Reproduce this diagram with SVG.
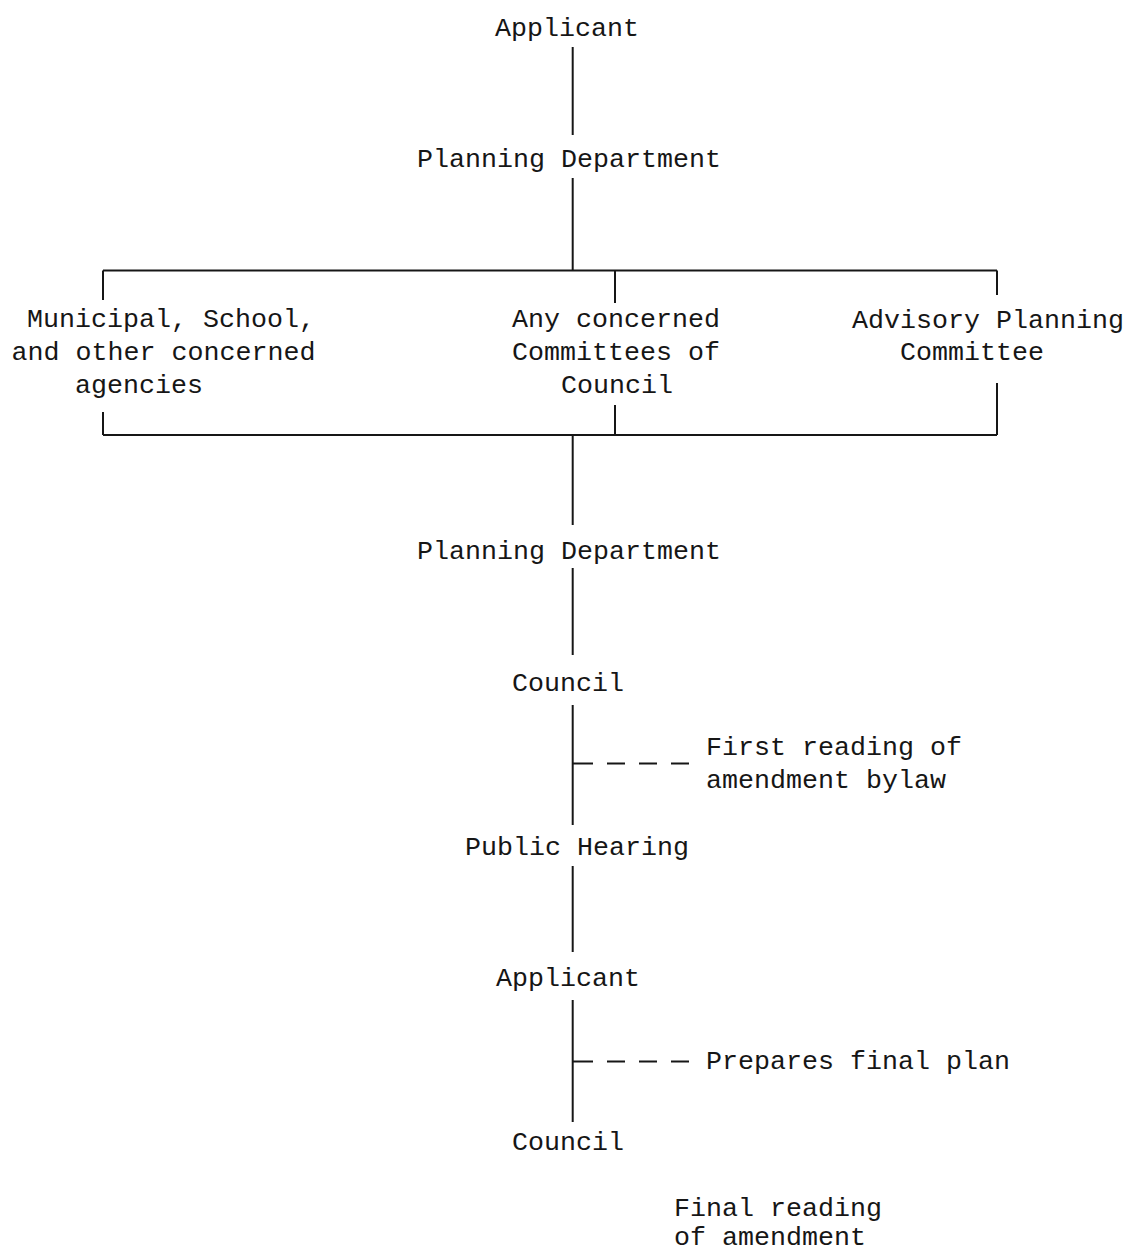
<svg xmlns="http://www.w3.org/2000/svg" width="1130" height="1255" viewBox="0 0 1130 1255">
  <style>
    text { font-family: "Liberation Mono", "DejaVu Sans Mono", monospace; font-size: 26.67px; fill: #161616; }
    .ln { stroke: #161616; stroke-width: 2; fill: none; }
    .dash { stroke: #161616; stroke-width: 2; fill: none; stroke-dasharray: 18 14; }
  </style>
  <rect width="1130" height="1255" fill="#ffffff"/>

  <!-- connectors -->
  <g id="connectors">
    <line class="ln" x1="572.7" y1="47" x2="572.7" y2="135"/>
    <line class="ln" x1="572.7" y1="178" x2="572.7" y2="270.5"/>
    <!-- distribution bracket -->
    <line class="ln" x1="103" y1="270.5" x2="997" y2="270.5"/>
    <line class="ln" x1="103" y1="270.5" x2="103" y2="300"/>
    <line class="ln" x1="615" y1="270.5" x2="615" y2="303"/>
    <line class="ln" x1="997" y1="270.5" x2="997" y2="295"/>
    <!-- collection bracket -->
    <line class="ln" x1="103" y1="435" x2="997" y2="435"/>
    <line class="ln" x1="103" y1="412" x2="103" y2="435"/>
    <line class="ln" x1="615" y1="405" x2="615" y2="435"/>
    <line class="ln" x1="997" y1="383" x2="997" y2="435"/>
    <line class="ln" x1="572.7" y1="435" x2="572.7" y2="525"/>
    <line class="ln" x1="572.7" y1="568" x2="572.7" y2="655"/>
    <line class="ln" x1="572.7" y1="705" x2="572.7" y2="825"/>
    <line class="ln" x1="572.7" y1="866" x2="572.7" y2="952"/>
    <line class="ln" x1="572.7" y1="1000" x2="572.7" y2="1122"/>
    <!-- side notes -->
    <line class="ln" x1="572.7" y1="763.5" x2="593" y2="763.5"/>
    <line class="dash" x1="607" y1="763.5" x2="689" y2="763.5"/>
    <line class="ln" x1="572.7" y1="1061.5" x2="593" y2="1061.5"/>
    <line class="dash" x1="607" y1="1061.5" x2="689" y2="1061.5"/>
  </g>

  <g id="applicant-1"><text x="495" y="36">Applicant</text></g>
  <g id="planning-dept-1"><text x="417" y="167">Planning Department</text></g>

  <g id="agencies">
    <text x="27" y="327">Municipal, School,</text>
    <text x="11.5" y="360">and other concerned</text>
    <text x="75" y="393">agencies</text>
  </g>
  <g id="committees">
    <text x="512" y="327">Any concerned</text>
    <text x="512" y="360">Committees of</text>
    <text x="561" y="393">Council</text>
  </g>
  <g id="advisory">
    <text x="852" y="328">Advisory Planning</text>
    <text x="900" y="360">Committee</text>
  </g>

  <g id="planning-dept-2"><text x="417" y="559">Planning Department</text></g>
  <g id="council-1"><text x="512" y="691">Council</text></g>
  <g id="first-reading">
    <text x="706" y="755">First reading of</text>
    <text x="706" y="788">amendment bylaw</text>
  </g>
  <g id="public-hearing"><text x="465" y="855">Public Hearing</text></g>
  <g id="applicant-2"><text x="496" y="986">Applicant</text></g>
  <g id="final-plan"><text x="706" y="1069">Prepares final plan</text></g>
  <g id="council-2"><text x="512" y="1150">Council</text></g>
  <g id="final-reading">
    <text x="674" y="1216">Final reading</text>
    <text x="674" y="1245">of amendment</text>
  </g>
</svg>
